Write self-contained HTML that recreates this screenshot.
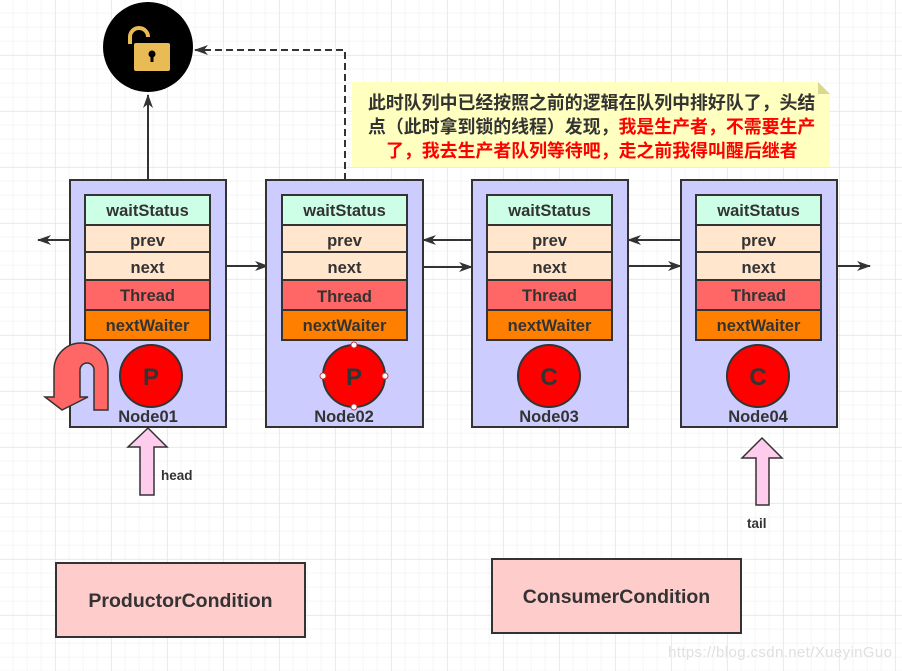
<!DOCTYPE html>
<html><head><meta charset="utf-8"><style>
body{margin:0;}
svg{display:block;}
text{font-family:"Liberation Sans","Noto Sans CJK SC",sans-serif;font-weight:bold;fill:#333;}
</style></head><body>
<svg width="902" height="671" viewBox="0 0 902 671" xmlns="http://www.w3.org/2000/svg">
<defs>
<pattern id="minor" width="14" height="14" patternUnits="userSpaceOnUse" x="-0.3" y="-0.3"><path d="M14 0V14H0" fill="none" stroke="#ececec" stroke-width="1"/></pattern>
<pattern id="major" width="56" height="56" patternUnits="userSpaceOnUse" x="-0.3" y="-0.3"><rect width="56" height="56" fill="url(#minor)"/><path d="M56 0V56H0" fill="none" stroke="#dedede" stroke-width="1"/></pattern>
<marker id="ar" markerWidth="14" markerHeight="12" refX="13" refY="6" orient="auto" markerUnits="userSpaceOnUse"><path d="M0 1L14 6L0 11L4 6Z" fill="#333"/></marker>
</defs>
<rect width="902" height="671" fill="#fff"/>
<rect width="902" height="671" fill="url(#major)"/>

<!-- lock -->
<circle cx="148" cy="47" r="45" fill="#000"/>
<path d="M130 44v-7a9 9 0 0 1 18 0" fill="none" stroke="#e9bb55" stroke-width="4"/>
<rect x="134" y="43" width="36" height="28" rx="2" fill="#e9bb55"/>
<circle cx="152" cy="54" r="3.5" fill="#000"/><rect x="150.5" y="55" width="3" height="7" fill="#000"/>
<line x1="148" y1="180" x2="148" y2="95" stroke="#333" stroke-width="2" marker-end="url(#ar)"/>
<path d="M345 180V50H195" fill="none" stroke="#333" stroke-width="2" stroke-dasharray="7,4" marker-end="url(#ar)"/>

<!-- note -->
<path d="M352 82H818L830 94V167H352Z" fill="#ffffc0"/>
<path d="M818 82L830 94H818Z" fill="#d8d890"/>
<text font-size="17.9"><tspan x="368" y="109">此时队列中已经按照之前的逻辑在队列中排好队了，头结</tspan><tspan x="368" y="133">点（此时拿到锁的线程）发现，<tspan fill="#f00">我是生产者，不需要生产</tspan></tspan><tspan x="386" y="157" fill="#f00">了，我去生产者队列等待吧，走之前我得叫醒后继者</tspan></text>

<!-- connectors -->
<g stroke="#333" stroke-width="2" fill="none">
<line x1="85" y1="240" x2="38" y2="240" marker-end="url(#ar)"/>
<line x1="226" y1="266" x2="268" y2="266" marker-end="url(#ar)"/>
<line x1="407" y1="267" x2="472" y2="267" marker-end="url(#ar)"/>
<line x1="487" y1="240" x2="423" y2="240" marker-end="url(#ar)"/>
<line x1="612" y1="266" x2="681" y2="266" marker-end="url(#ar)"/>
<line x1="696" y1="240" x2="628" y2="240" marker-end="url(#ar)"/>
<line x1="821" y1="266" x2="870" y2="266" marker-end="url(#ar)"/>
</g>

<!-- nodes -->
<g stroke="#333" stroke-width="2">
<rect x="70" y="180" width="156" height="247" fill="#ccccff"/>
<rect x="266" y="180" width="157" height="247" fill="#ccccff"/>
<rect x="472" y="180" width="156" height="247" fill="#ccccff"/>
<rect x="681" y="180" width="156" height="247" fill="#ccccff"/>
</g>
<g stroke="#333" stroke-width="2">
<g transform="translate(85 0)">
<rect x="0" y="195" width="125" height="30" fill="#ccffe6"/><rect x="0" y="225" width="125" height="27" fill="#ffe6cc"/><rect x="0" y="252" width="125" height="28" fill="#ffe6cc"/><rect x="0" y="280" width="125" height="30" fill="#ff6666"/><rect x="0" y="310" width="125" height="30" fill="#ff8000"/></g>
<g transform="translate(282 0)">
<rect x="0" y="195" width="125" height="30" fill="#ccffe6"/><rect x="0" y="225" width="125" height="27" fill="#ffe6cc"/><rect x="0" y="252" width="125" height="28" fill="#ffe6cc"/><rect x="0" y="280" width="125" height="30" fill="#ff6666"/><rect x="0" y="310" width="125" height="30" fill="#ff8000"/></g>
<g transform="translate(487 0)">
<rect x="0" y="195" width="125" height="30" fill="#ccffe6"/><rect x="0" y="225" width="125" height="27" fill="#ffe6cc"/><rect x="0" y="252" width="125" height="28" fill="#ffe6cc"/><rect x="0" y="280" width="125" height="30" fill="#ff6666"/><rect x="0" y="310" width="125" height="30" fill="#ff8000"/></g>
<g transform="translate(696 0)">
<rect x="0" y="195" width="125" height="30" fill="#ccffe6"/><rect x="0" y="225" width="125" height="27" fill="#ffe6cc"/><rect x="0" y="252" width="125" height="28" fill="#ffe6cc"/><rect x="0" y="280" width="125" height="30" fill="#ff6666"/><rect x="0" y="310" width="125" height="30" fill="#ff8000"/></g>
<circle cx="151" cy="376" r="31" fill="#f00"/>
<circle cx="354" cy="376" r="31" fill="#f00"/>
<circle cx="549" cy="376" r="31" fill="#f00"/>
<circle cx="758" cy="376" r="31" fill="#f00"/>
</g>
<g fill="#fff" stroke="#c33" stroke-width="1"><circle cx="354" cy="345" r="3"/><circle cx="354" cy="407" r="3"/><circle cx="323" cy="376" r="3"/><circle cx="385" cy="376" r="3"/></g>

<g font-size="16.5" text-anchor="middle">
<text x="147.5" y="216">waitStatus</text><text x="147.5" y="246">prev</text><text x="147.5" y="273">next</text><text x="147.5" y="301">Thread</text><text x="147.5" y="331">nextWaiter</text>
<text x="344.5" y="216">waitStatus</text><text x="344.5" y="246">prev</text><text x="344.5" y="273">next</text><text x="344.5" y="302">Thread</text><text x="344.5" y="331">nextWaiter</text>
<text x="549.5" y="216">waitStatus</text><text x="549.5" y="246">prev</text><text x="549.5" y="273">next</text><text x="549.5" y="301">Thread</text><text x="549.5" y="331">nextWaiter</text>
<text x="758.5" y="216">waitStatus</text><text x="758.5" y="246">prev</text><text x="758.5" y="273">next</text><text x="758.5" y="301">Thread</text><text x="758.5" y="331">nextWaiter</text>
<text x="148" y="422">Node01</text><text x="344" y="422">Node02</text><text x="549" y="422">Node03</text><text x="758" y="422">Node04</text>
</g>
<g font-size="24" text-anchor="middle">
<text x="151" y="385">P</text><text x="354" y="385">P</text><text x="549" y="385">C</text><text x="758" y="385">C</text>
</g>

<!-- U-turn arrow -->
<path d="M108 410H94V370a7 7 0 0 0 -14 0V397H88L62 410L45 397H54V370a27 27 0 0 1 54 0Z" fill="#ff6666" stroke="#333" stroke-width="1.5"/>

<!-- head / tail arrows -->
<path d="M148 428L167 447H154V495H140V447H128Z" fill="#ffccee" stroke="#333" stroke-width="1.5"/>
<text x="161" y="480" font-size="13.5">head</text>
<path d="M762 438L782 458H769V505H756V458H742Z" fill="#ffccee" stroke="#333" stroke-width="1.5"/>
<text x="747" y="528" font-size="13.5">tail</text>

<!-- conditions -->
<rect x="56" y="563" width="249" height="74" fill="#ffcccc" stroke="#333" stroke-width="2"/>
<text x="180.5" y="607" font-size="19.5" text-anchor="middle">ProductorCondition</text>
<rect x="492" y="559" width="249" height="74" fill="#ffcccc" stroke="#333" stroke-width="2"/>
<text x="616.5" y="603" font-size="19.5" text-anchor="middle">ConsumerCondition</text>

<text x="668" y="657" font-size="15" textLength="224" style="font-weight:normal;fill:#e0e0e0">https://blog.csdn.net/XueyinGuo</text>
</svg>
</body></html>
